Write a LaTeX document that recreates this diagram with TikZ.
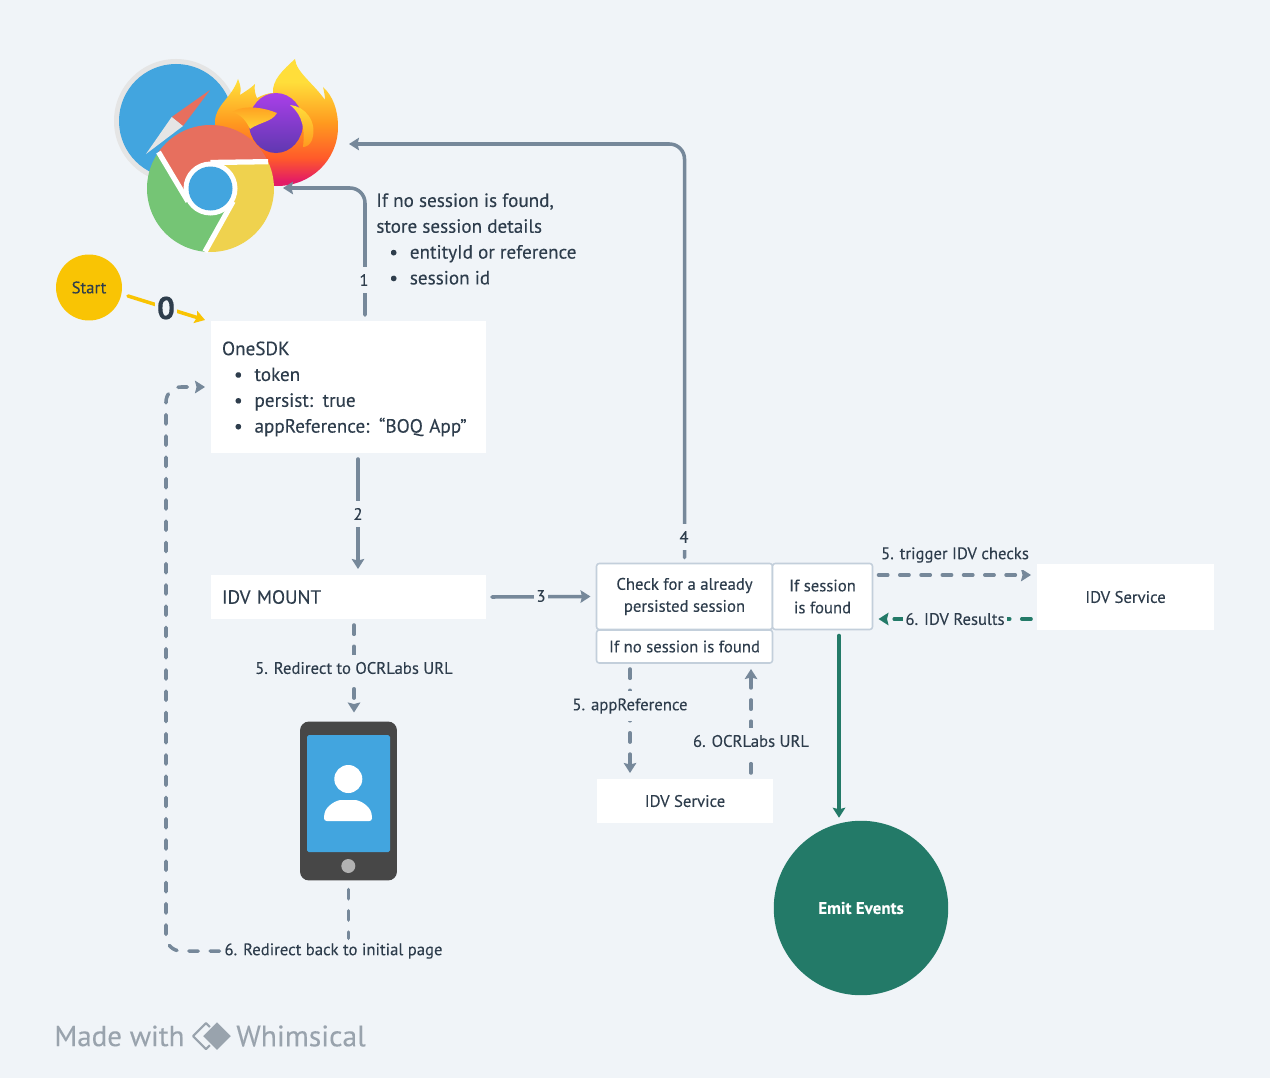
\documentclass[tikz,border=0pt]{standalone}
\usepackage{fontspec}
\setmainfont{PT Sans}[FakeBold=0.15]
\usetikzlibrary{arrows.meta}
\definecolor{pagebg}{HTML}{F0F4F8}
\definecolor{flowgray}{HTML}{76889A}
\definecolor{flowgreen}{HTML}{237A68}
\definecolor{inkdark}{HTML}{2E3D4C}
\definecolor{boxline}{HTML}{C3CFDB}
\definecolor{startyellow}{HTML}{F9C404}
\definecolor{iconblue}{HTML}{42A5DF}
\definecolor{chromered}{HTML}{E76F5E}
\definecolor{chromegreen}{HTML}{75C575}
\definecolor{chromeyellow}{HTML}{EFD24E}
\definecolor{markgray}{HTML}{99A3AD}
\definecolor{foxpink}{HTML}{E31B66}
\definecolor{foxred}{HTML}{FF5A2A}
\definecolor{foxorange}{HTML}{FF9A1F}
\definecolor{foxyellow}{HTML}{FFDE3A}
\definecolor{foxviolet}{HTML}{A93FE8}
\definecolor{foxblue}{HTML}{5F38B0}
\pgfdeclareverticalshading{foxbody}{100bp}{color(0bp)=(foxpink); color(27bp)=(foxpink); color(36bp)=(foxred); color(50bp)=(foxorange); color(66bp)=(foxyellow); color(100bp)=(foxyellow)}
\newcommand{\bulitem}[2]{\hspace{#1}\makebox[0.41cm][l]{•}#2}
\tikzset{
	labelfont/.style={font=\fontsize{10.9}{14.7}\selectfont, text=inkdark},
	smallfont/.style={font=\fontsize{9.5}{12.5}\selectfont, text=inkdark},
	whitebox/.style={fill=white, inner sep=0pt, outer sep=0.12cm, labelfont},
	linedbox/.style={whitebox, draw=boxline, line width=0.9pt, rounded corners=1.5pt, smallfont},
	flowline/.style={flowgray, line width=2pt, line cap=round, rounded corners=0.3cm},
	flowdash/.style={flowline, dash pattern=on 5.3pt off 6.8pt},
	greenline/.style={flowline, flowgreen},
	flowlabel/.style={smallfont, fill=pagebg, inner xsep=1.5pt, inner ysep=4pt}
}
\begin{document}
\begin{tikzpicture}[x=0.02cm, y=-0.02cm, line join=round, >={Stealth[length=0.2cm,width=0.25cm,inset=0.03cm]}]
	\fill[pagebg] (0,0) rectangle (1270,1078);
	\useasboundingbox (0,0) rectangle (1270,1078);
	% safari
	\fill[black!10] (176,121) circle (62);
	\fill[iconblue] (176,121) circle (57);
	\fill[chromered] (210,90)--(171.7,117)--(183,126)--cycle;
	\fill[black!10] (146,154)--(171.7,117)--(183,126)--cycle;
	% firefox
	\shade[shading=foxbody]
		(277,186) .. controls (243,186) and (215,158) .. (215,122)
		.. controls (215,105) and (232,98) .. (238,79)
		.. controls (241,86) and (241,90) .. (240,95)
		.. controls (246,91) and (251,88) .. (255,84)
		.. controls (254,89) and (255,94) .. (257,98)
		.. controls (263,95) and (268,93) .. (273,93)
		.. controls (272,80) and (283,70) .. (295,59)
		.. controls (296,72) and (314,84) .. (325,100)
		.. controls (325,96) and (324,91) .. (323,87)
		.. controls (333,96) and (338,110) .. (338,127)
		.. controls (338,160) and (311,186) .. (277,186) -- cycle;
	\shade[top color=foxviolet, bottom color=foxblue] (276,123) ellipse (27 and 30);
	\shade[top color=foxorange, bottom color=foxyellow!90!orange] (232,112)
		.. controls (245,104) and (265,108) .. (277,113)
		.. controls (272,122) and (260,122) .. (250,129)
		.. controls (246,120) and (240,114) .. (232,112) -- cycle;
	\shade[top color=foxyellow, bottom color=foxorange] (290,105)
		.. controls (305,106) and (318,122) .. (312,140)
		.. controls (310,145) and (306,147) .. (303,147)
		.. controls (305,130) and (303,115) .. (290,105) -- cycle;
	% chrome
	\begin{scope}[shift={(210.5,188.5)}, y=0.02cm]
		\foreach \ang/\col in {0/chromered,120/chromegreen,240/chromeyellow}
			\fill[\col, rotate=\ang] (25:63.5) arc (25:145:63.5) -- (210:26) -- (90:26) -- cycle;
		\foreach \ang in {0,120,240}
			\draw[white, line width=3pt, rotate=\ang] (25:63.5) -- (90:26);
		\fill[white] (0,0) circle (27);
		\fill[iconblue] (0,0) circle (22);
	\end{scope}
	\coordinate (chromein) at (283,188);
	\coordinate (firefoxin) at (349,144);
	% boxes
	\node[circle, fill=startyellow, minimum size=1.32cm, inner sep=0pt, outer sep=0.1cm, smallfont] (start) at (89,287.5) {Start};
	\node[whitebox, minimum width=5.5cm, minimum height=2.64cm, text width=5.06cm, align=left] (onesdk) at (348.5,387)
		{\rule{0pt}{10pt}OneSDK\\\bulitem{0.24cm}{token}\\\bulitem{0.24cm}{persist: true}\\\bulitem{0.24cm}{appReference: “BOQ App”}};
	\node[whitebox, minimum width=5.5cm, minimum height=0.88cm, text width=5.06cm, align=left] (mount) at (348.5,597) {IDV MOUNT};
	\node[linedbox, minimum width=3.52cm, minimum height=1.32cm, align=center] (check) at (684.5,596.5) {Check for a already\\persisted session};
	\node[linedbox, minimum width=2cm, minimum height=1.32cm, align=center] (found) at (822.5,596.5) {If session\\is found};
	\node[linedbox, minimum width=3.52cm, minimum height=0.66cm] (nofound) at (684.5,646.5) {If no session is found};
	\node[whitebox, minimum width=3.52cm, minimum height=0.88cm, smallfont] (idvlow) at (685,801) {IDV Service};
	\node[whitebox, minimum width=3.54cm, minimum height=1.32cm, smallfont] (idvright) at (1125.5,597) {IDV Service};
	\node[circle, fill=flowgreen, minimum size=3.49cm, inner sep=0pt, outer sep=0.06cm, text=white, font=\fontsize{9.7}{12}\selectfont\bfseries] (emit) at (861,908) {Emit Events};
	% phone
	\node[fill=black!72, rounded corners=0.18cm, minimum width=1.94cm, minimum height=3.18cm, inner sep=0pt, outer sep=0.18cm] (phone) at (348.5,801) {};
	\fill[iconblue, rounded corners=1pt] (307,735) rectangle (390,852);
	\fill[white] (348.3,779) circle (14);
	\fill[white, rounded corners=1.5pt] (324,821) -- (324,816) .. controls (326,806) and (336,800) .. (344,800) -- (352,800) .. controls (360,800) and (370,806) .. (372,816) -- (372,821) -- cycle;
	\fill[black!30] (348.3,866) circle (7);
	\node[smallfont, inner sep=0pt, outer sep=0.1cm] (backlbl) at (333.5,951) {6. Redirect back to initial page};
	% connectors
	\draw[flowline, ->] (365,0 |- onesdk.north) -- (365,188) -- (chromein);
	\draw[flowline, ->] (check.north) -- (684.5,144) -- (firefoxin);
	\draw[flowline, ->] (358,0 |- onesdk.south) -- (358,0 |- mount.north);
	\draw[flowline, ->] (mount.east) -- (check.west);
	\draw[flowdash, ->] (354,0 |- mount.south) -- (354,0 |- phone.north);
	\draw[flowdash] (348.5,0 |- phone.south) -- (348.5,0 |- backlbl.north);
	\draw[flowdash, ->] (backlbl.west) -- (166,951) -- (166,387) -- (onesdk.west);
	\draw[flowdash, ->] (630,0 |- nofound.south) -- (630,0 |- idvlow.north);
	\draw[flowdash, ->] (751,0 |- idvlow.north) -- (751,0 |- nofound.south);
	\draw[flowdash, ->] (found.east |- 0,575) -- (idvright.west |- 0,575);
	\draw[greenline, dash pattern=on 5.3pt off 6.8pt, ->] (idvright.west |- 0,619) -- (found.east |- 0,619);
	\draw[greenline, ->] (839,0 |- found.south) -- (839,0 |- emit.north);
	\draw[startyellow, line width=2pt, line cap=round, ->] (128,296) -- (205,320);
	% connector labels
	\node[flowlabel] (lblone) at (364,280) {1};
	\node[flowlabel] (lbltwo) at (358,514) {2};
	\node[flowlabel] (lblthree) at (541,596) {3};
	\node[flowlabel] (lblfour) at (684,537) {4};
	\node[flowlabel] (lblocrurl) at (354,668) {5. Redirect to OCRLabs URL};
	\node[flowlabel] (lblappref) at (630,706) {5. appReference};
	\node[flowlabel] (lblocr) at (751,741) {6. OCRLabs URL};
	\node[flowlabel] (lbltrigger) at (955,555) {5. trigger IDV checks};
	\node[flowlabel] (lblresults) at (955,619) {6. IDV Results};
	\node[flowlabel, font=\fontsize{18}{20}\selectfont\bfseries, inner sep=1pt] (lblzero) at (166,308) {0};
	\node[labelfont, anchor=north west, inner sep=0pt, align=left] (sessnote) at (376,193)
		{If no session is found,\\store session details\\\bulitem{0.26cm}{entityId or reference}\\\bulitem{0.26cm}{session id}};
	% watermark
	\node[text=markgray, font=\fontsize{16.5}{18}\selectfont, anchor=west, inner sep=0pt] (madewith) at (54,1036) {Made with};
	\node[text=markgray, font=\fontsize{16.8}{18}\selectfont, anchor=west, inner sep=0pt] (whimsical) at (236,1036) {Whimsical};
	\draw[markgray, line width=1.2pt] (206,1023) -- (193,1036) -- (206,1049) -- (219,1036) -- cycle;
	\fill[markgray, draw=pagebg, line width=0.8pt] (217,1021) -- (232,1036) -- (217,1051) -- (202,1036) -- cycle;
\end{tikzpicture}
\end{document}
